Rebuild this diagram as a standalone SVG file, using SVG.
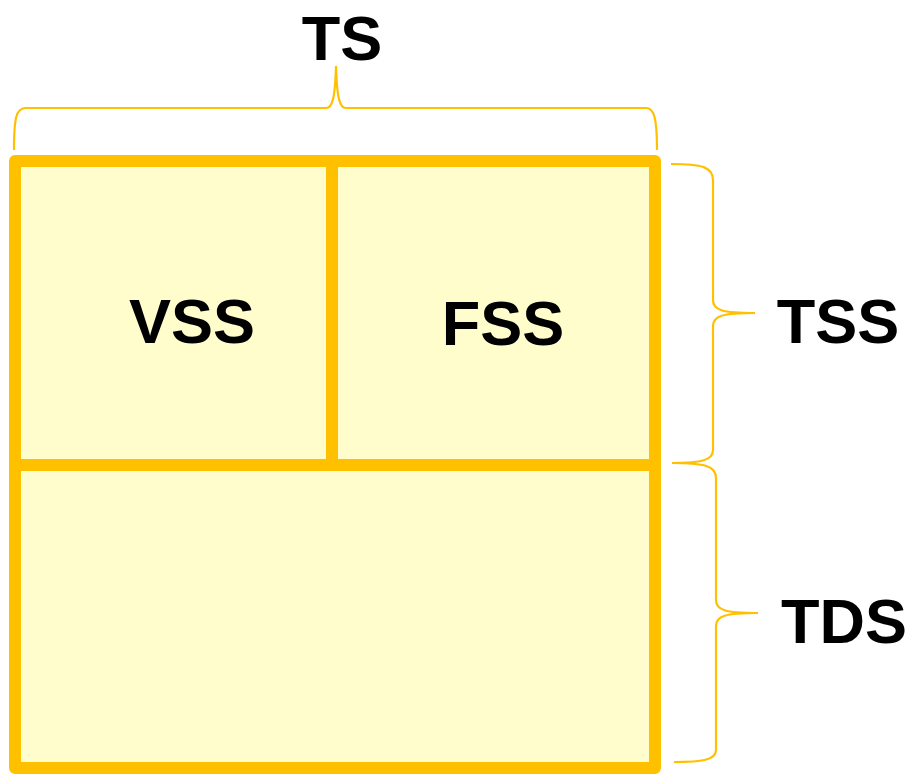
<svg xmlns="http://www.w3.org/2000/svg" width="913" height="774" viewBox="0 0 913 774">
  <style>
    .cell { fill: #FFFDCC; stroke: #FFC000; stroke-width: 12; stroke-linejoin: round; }
    .bar { stroke: #FFC000; stroke-width: 12; fill: none; }
    .brace { fill: none; stroke: #FFC000; stroke-width: 2.2; }
    .label { font-family: "Liberation Sans", Arial, sans-serif; font-weight: bold; font-size: 63px; fill: #000; text-anchor: middle; }
  </style>
  <g id="frame">
    <rect class="cell" x="15" y="161" width="640" height="607"/>
  </g>
  <g id="dividers">
    <line class="bar" x1="15" y1="465" x2="655" y2="465"/>
    <line class="bar" x1="332" y1="161" x2="332" y2="465"/>
  </g>
  <g id="connectors">
    <path class="brace" d="M14,150 C14,118 16,108 26,108 L326,108 C332,108 335,100 336,66 C337,100 340,108 346,108 L646,108 C654,108 657,118 657,150"/>
    <path class="brace" d="M671,164 C702,164 713,167 713,180 L713,300 C713,310 722,313 755,313 C722,313 713,316 713,326 L713,450 C713,460 702,463 672,463"/>
    <path class="brace" d="M672,463 C705,463 716,466 716,478 L716,600 C716,610 725,613 758,613 C725,613 716,616 716,626 L716,750 C716,760 702,762 674,762"/>
  </g>
  <g id="node-ts"><text class="label" x="342" y="60">TS</text></g>
  <g id="node-vss"><text class="label" x="192" y="343">VSS</text></g>
  <g id="node-fss"><text class="label" x="503" y="345">FSS</text></g>
  <g id="node-tss"><text class="label" x="838" y="343">TSS</text></g>
  <g id="node-tds"><text class="label" x="844" y="643">TDS</text></g>
</svg>
